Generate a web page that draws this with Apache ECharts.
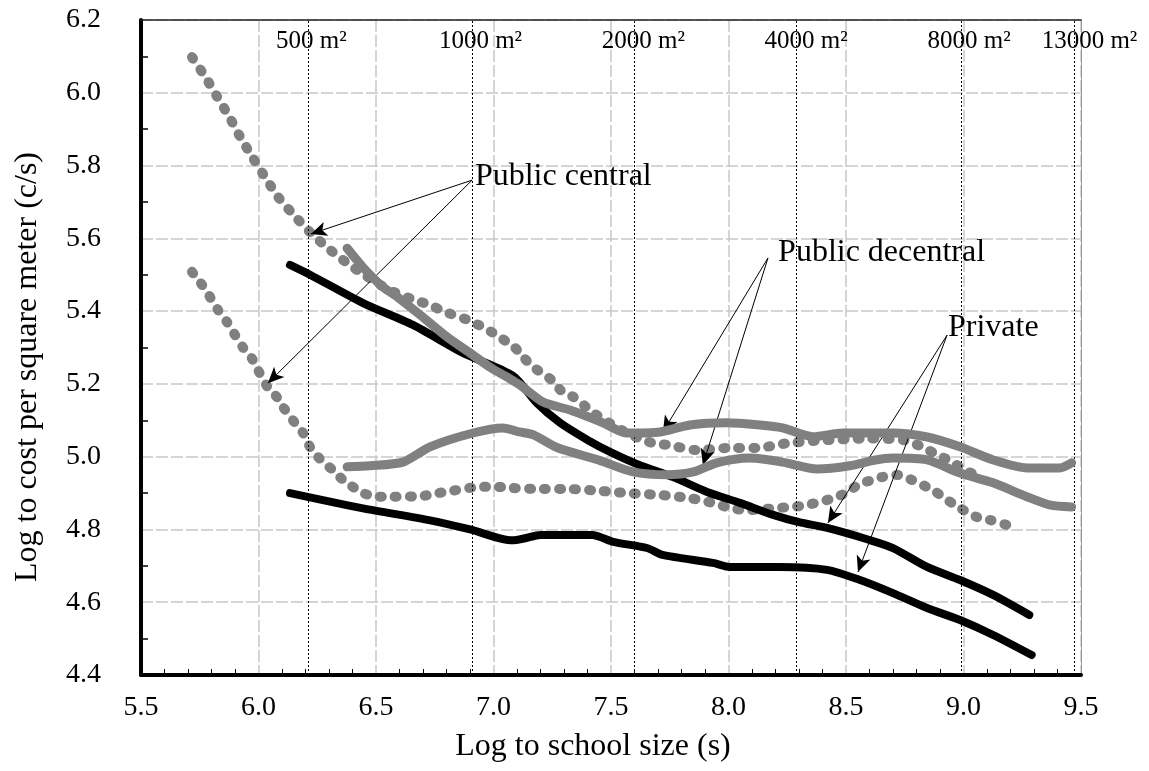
<!DOCTYPE html>
<html><head><meta charset="utf-8">
<script src="https://cdn.jsdelivr.net/npm/echarts@6/dist/echarts.min.js"></script>
<style>html,body{margin:0;padding:0;background:#fff}#c{width:1149px;height:771px}</style>
</head><body><div id="c"></div>
<script>
// ---- data ----
const pubCentralUpperX = [5.717,5.777,5.823,5.879,5.921,5.977,6.036,6.083,6.142,6.219,6.29,6.377,6.45,6.55,6.666,6.73,6.785,6.89,6.955,7.006,7.09,7.126,7.168,7.249,7.29,7.34,7.42,7.474,7.525,7.62,7.68,7.743,7.866,8.0,8.12,8.19,8.25,8.4,8.6,8.75,8.836,8.887,8.94,9.0,9.05];
const pubCentralUpperY = [6.098,6.04,5.99,5.93,5.88,5.82,5.76,5.714,5.67,5.617,5.576,5.532,5.50,5.46,5.43,5.417,5.40,5.376,5.356,5.337,5.30,5.274,5.247,5.21,5.18,5.164,5.123,5.10,5.08,5.05,5.037,5.032,5.018,5.024,5.024,5.03,5.037,5.045,5.05,5.045,5.023,5.005,4.99,4.965,4.95];

const pubCentralLowerX = [5.717,5.751,5.78,5.828,5.866,5.887,5.934,5.972,5.998,6.04,6.078,6.104,6.155,6.19,6.219,6.274,6.317,6.36,6.445,6.509,6.572,6.696,6.764,6.823,6.943,7.015,7.078,7.21,7.326,7.453,7.57,7.70,7.836,7.95,8.006,8.08,8.206,8.27,8.334,8.445,8.509,8.55,8.653,8.72,8.78,8.87,8.913,8.964,9.057,9.113,9.185];
const pubCentralLowerY = [5.508,5.48,5.453,5.403,5.37,5.348,5.30,5.27,5.238,5.19,5.164,5.137,5.093,5.065,5.027,4.985,4.963,4.936,4.90,4.89,4.89,4.892,4.90,4.906,4.917,4.917,4.914,4.911,4.911,4.906,4.90,4.895,4.886,4.87,4.859,4.853,4.859,4.862,4.867,4.886,4.903,4.922,4.944,4.95,4.936,4.908,4.889,4.867,4.834,4.826,4.812];

const pubDecentralUpperX = [6.377,6.445,6.53,6.589,6.687,6.802,6.90,6.985,7.057,7.113,7.211,7.326,7.466,7.568,7.709,7.836,7.99,8.134,8.23,8.36,8.487,8.70,8.845,8.985,9.126,9.27,9.41,9.46];
const pubDecentralUpperY = [5.573,5.52,5.466,5.44,5.39,5.329,5.285,5.246,5.219,5.197,5.15,5.128,5.093,5.065,5.068,5.087,5.093,5.087,5.079,5.055,5.065,5.065,5.054,5.027,4.991,4.969,4.969,4.983];

const pubDecentralLowerX = [6.377,6.475,6.615,6.73,6.913,7.04,7.11,7.17,7.27,7.45,7.594,7.738,7.85,7.95,8.09,8.23,8.377,8.517,8.62,8.70,8.845,8.985,9.126,9.27,9.37,9.46];
const pubDecentralLowerY = [4.972,4.975,4.985,5.027,5.065,5.079,5.068,5.06,5.025,4.99,4.958,4.95,4.958,4.983,4.996,4.985,4.966,4.975,4.99,4.996,4.991,4.955,4.928,4.89,4.867,4.862];

const privateUpperX = [6.134,6.219,6.445,6.657,6.87,7.083,7.185,7.283,7.4,7.496,7.62,7.764,7.909,8.049,8.19,8.30,8.42,8.60,8.70,8.845,8.985,9.126,9.28];
const privateUpperY = [5.527,5.50,5.422,5.362,5.285,5.222,5.147,5.093,5.046,5.013,4.977,4.944,4.903,4.873,4.84,4.82,4.804,4.771,4.749,4.697,4.661,4.62,4.565];

const privateLowerX = [6.134,6.445,6.73,6.90,7.08,7.13,7.20,7.42,7.51,7.653,7.72,7.934,8.006,8.22,8.42,8.56,8.70,8.845,8.985,9.126,9.29];
const privateLowerY = [4.90,4.858,4.825,4.80,4.77,4.775,4.785,4.785,4.766,4.749,4.73,4.708,4.697,4.697,4.689,4.661,4.625,4.584,4.551,4.51,4.455];

// school floor area reference lines (log of m2) and labels
const areaLog = [6.215, 6.908, 7.601, 8.294, 8.987, 9.473];
const areaLabels = ['500 m²', '1000 m²', '2000 m²', '4000 m²', '8000 m²', '13000 m²'];

const xTicks = {min: 5.5, max: 9.5, step: 0.5};
const yTicks = {min: 4.4, max: 6.2, step: 0.2};

const xTitle = 'Log to school size (s)';
const yTitle = 'Log to cost per square meter (c/s)';

// ---- layout / styling ----
const FONT = "'Liberation Serif','Times New Roman',serif";
const GRAY = '#808080';
const zip = (xs, ys) => xs.map((x, i) => [x, ys[i]]);

const annotations = [
  {text: 'Public central', at: [6.921, 5.771], arrows: [[[6.909, 5.76], [6.223, 5.612]], [[6.909, 5.76], [6.04, 5.202]]]},
  {text: 'Public decentral', at: [8.211, 5.562], arrows: [[[8.168, 5.546], [7.721, 5.068]], [[8.168, 5.546], [7.891, 4.977]]]},
  {text: 'Private', at: [8.934, 5.356], arrows: [[[8.93, 5.334], [8.423, 4.818]], [[8.93, 5.334], [8.551, 4.683]]]}
];
const areaLabelY = 6.14;

const dotted = {color: GRAY, width: 10, type: [2, 13], cap: 'round'};
function lineSeries(name, xs, ys, style, z) {
  return {name, type: 'line', data: zip(xs, ys), showSymbol: false, symbol: 'none', smooth: 0.25,
          lineStyle: style, z, silent: true, clip: true};
}

const splitStyle = {color: '#c8c8c8', width: 1.5, type: [12, 3]};
const textStyle = {fontFamily: FONT, color: '#000', textBorderWidth: 0, opacity: 1};

const option = {
  animation: false,
  backgroundColor: '#fff',
  grid: {left: 141, right: 68, top: 20, bottom: 96},
  xAxis: [{
    type: 'value', min: xTicks.min, max: xTicks.max, interval: xTicks.step,
    axisLine: {show: true, onZero: false, lineStyle: {color: '#000', width: 4}},
    axisTick: {show: false, inside: true},
    minorTick: {show: true, splitNumber: 5, length: 6, lineStyle: {color: '#000', width: 1}},
    splitLine: {show: true, lineStyle: splitStyle},
    axisLabel: Object.assign({formatter: v => v.toFixed(1), fontSize: 28, margin: 19}, textStyle)
  }, {
    type: 'value', position: 'top', min: xTicks.min, max: xTicks.max,
    axisLine: {show: true, onZero: false, lineStyle: {color: '#222', width: 1.5}},
    axisTick: {show: false}, axisLabel: {show: false}, splitLine: {show: false}
  }],
  yAxis: [{
    type: 'value', min: yTicks.min, max: yTicks.max, interval: yTicks.step,
    axisLine: {show: true, onZero: false, lineStyle: {color: '#000', width: 4}},
    axisTick: {show: false, inside: true},
    minorTick: {show: true, splitNumber: 2, length: 7, lineStyle: {color: '#000', width: 1.5}},
    splitLine: {show: true, lineStyle: splitStyle},
    axisLabel: Object.assign({formatter: v => v.toFixed(1), fontSize: 28, margin: 40, padding: [8, 0, 0, 0]}, textStyle)
  }, {
    type: 'value', position: 'right', min: yTicks.min, max: yTicks.max,
    axisLine: {show: true, onZero: false, lineStyle: {color: '#999', width: 1}},
    axisTick: {show: false}, axisLabel: {show: false}, splitLine: {show: false}
  }],
  series: [
    lineSeries('Public central (upper)', pubCentralUpperX, pubCentralUpperY, dotted, 3),
    lineSeries('Public central (lower)', pubCentralLowerX, pubCentralLowerY, dotted, 3),
    lineSeries('Private (upper)', privateUpperX, privateUpperY, {color: '#000', width: 8, cap: 'round'}, 4),
    lineSeries('Private (lower)', privateLowerX, privateLowerY, {color: '#000', width: 8, cap: 'round'}, 4),
    lineSeries('Public decentral (upper)', pubDecentralUpperX, pubDecentralUpperY, {color: GRAY, width: 9, cap: 'round'}, 5),
    lineSeries('Public decentral (lower)', pubDecentralLowerX, pubDecentralLowerY, {color: GRAY, width: 9, cap: 'round'}, 5),
    {
      name: 'area labels', type: 'scatter', symbolSize: 0, silent: true, z: 2,
      itemStyle: {color: '#000'},
      data: areaLog.map((v, i) => ({value: [v, areaLabelY], name: areaLabels[i]})),
      label: Object.assign({show: true, position: 'right', distance: 0, offset: [-33, 0], formatter: p => p.name,
              fontSize: 25}, textStyle),
      markLine: {
        silent: true, symbol: ['none', 'none'], animation: false,
        label: {show: false},
        lineStyle: {color: '#000', width: 1, type: [2, 2]},
        data: areaLog.map(v => ({xAxis: v}))
      }
    },
    {
      name: 'annotations', type: 'scatter', symbolSize: 0, silent: true, z: 10,
      itemStyle: {color: '#000'},
      data: annotations.map(a => ({value: a.at, name: a.text})),
      label: Object.assign({show: true, position: 'right', distance: 0, formatter: p => p.name,
              fontSize: 32}, textStyle),
      markLine: {
        silent: true, symbol: ['none', 'arrow'], symbolSize: [11, 16], animation: false,
        label: {show: false},
        lineStyle: {color: '#000', width: 1, type: 'solid'},
        data: annotations.flatMap(a => a.arrows.map(ar => [{coord: ar[0]}, {coord: ar[1]}]))
      }
    }
  ],
  graphic: [
    {type: 'text', x: 593, y: 747, style: {text: xTitle, font: "32px 'Liberation Serif','Times New Roman',serif", fill: '#000', align: 'center', verticalAlign: 'middle'}},
    {type: 'text', x: 28, y: 367, rotation: Math.PI / 2, style: {text: yTitle, font: "32px 'Liberation Serif','Times New Roman',serif", fill: '#000', align: 'center', verticalAlign: 'middle'}}
  ]
};

const chart = echarts.init(document.getElementById('c'), null, {renderer: 'canvas'});
chart.setOption(option);
</script>
</body></html>
